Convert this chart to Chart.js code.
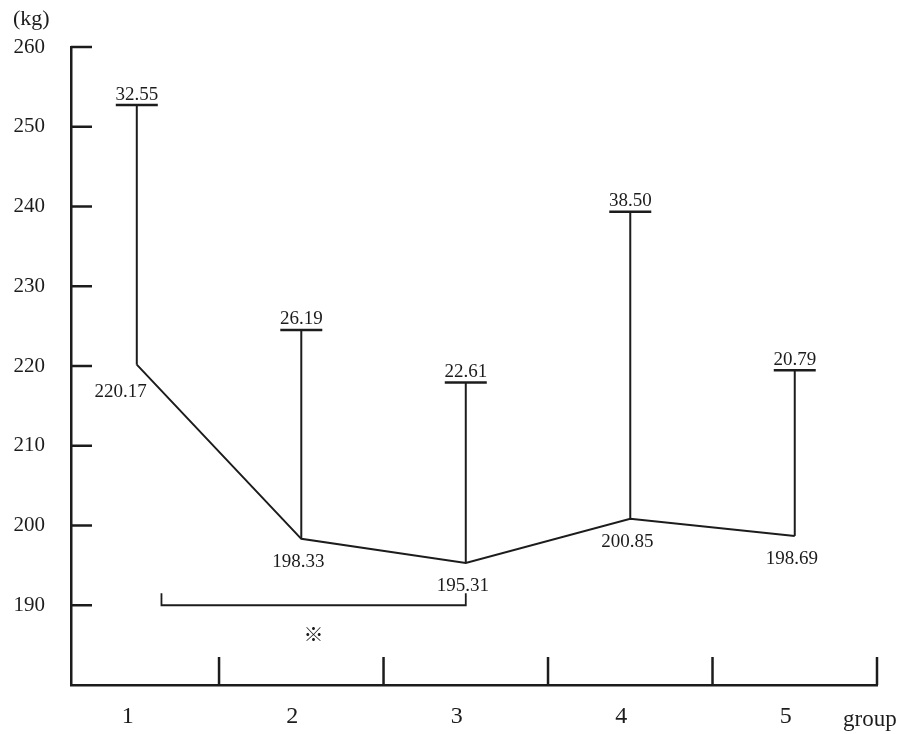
<!DOCTYPE html>
<html>
<head>
<meta charset="utf-8">
<script src="https://cdn.jsdelivr.net/npm/chart.js@4/dist/chart.umd.min.js"></script>
<style>
  html, body { margin: 0; padding: 0; background: #ffffff; }
  canvas { display: block; }
</style>
</head>
<body>
<canvas id="c" width="903" height="734"></canvas>
<script>
// ---- data ----
const groups = ['1', '2', '3', '4', '5'];
const means = [220.17, 198.33, 195.31, 200.85, 198.69];
const sds = [32.55, 26.19, 22.61, 38.50, 20.79];
const yTicks = [190, 200, 210, 220, 230, 240, 250, 260];
const sigPair = [1, 3];          // groups joined by the significance bracket
const sigMark = '※';
const yUnit = '(kg)';
const xTitle = 'group';

const INK = '#1c1c1c';
const SERIF = '"Liberation Serif", "Times New Roman", serif';

const meanPoints = means.map((m, i) => ({ x: i + 1, y: m }));

const annot = {
  id: 'annot',
  afterDraw(chart) {
    const ctx = chart.ctx;
    const xs = chart.scales.x, ys = chart.scales.y;
    const area = chart.chartArea;
    ctx.save();
    ctx.strokeStyle = INK;
    ctx.fillStyle = INK;
    ctx.lineCap = 'butt';

    // inward tick marks on the y axis
    ctx.lineWidth = 2.5;
    yTicks.forEach(v => {
      const y = ys.getPixelForValue(v);
      ctx.beginPath(); ctx.moveTo(area.left, y); ctx.lineTo(area.left + 21, y); ctx.stroke();
    });
    // inward tick marks on the x axis, between groups
    groups.forEach((g, i) => {
      const x = xs.getPixelForValue(i + 1.5);
      ctx.beginPath(); ctx.moveTo(x, area.bottom); ctx.lineTo(x, area.bottom - 28); ctx.stroke();
    });

    // SD bars (upward) with caps and labels
    ctx.lineWidth = 2;
    ctx.font = '19px ' + SERIF;
    means.forEach((m, i) => {
      const x = xs.getPixelForValue(i + 1);
      const y0 = ys.getPixelForValue(m);
      const y1 = ys.getPixelForValue(m + sds[i]);
      ctx.beginPath(); ctx.moveTo(x, y0); ctx.lineTo(x, y1); ctx.stroke();
      ctx.lineWidth = 2.5;
      ctx.beginPath(); ctx.moveTo(x - 21, y1); ctx.lineTo(x + 21, y1); ctx.stroke();
      ctx.lineWidth = 2;
      ctx.textAlign = 'center';
      ctx.textBaseline = 'bottom';
      ctx.fillText(sds[i].toFixed(2), x, y1 - 1);
      // mean labels
      ctx.textBaseline = 'middle';
      if (i === 0) {
        ctx.textAlign = 'right';
        ctx.fillText(m.toFixed(2), x + 10, y0 + 27);
      } else {
        ctx.textAlign = 'center';
        ctx.fillText(m.toFixed(2), x - 3, y0 + 23);
      }
    });

    // significance bracket
    const bx0 = xs.getPixelForValue(sigPair[0] + 0.15);
    const bx1 = xs.getPixelForValue(sigPair[1]);
    const by = ys.getPixelForValue(yTicks[0]);
    ctx.lineWidth = 1.8;
    ctx.beginPath();
    ctx.moveTo(bx0, by - 12); ctx.lineTo(bx0, by); ctx.lineTo(bx1, by); ctx.lineTo(bx1, by - 12);
    ctx.stroke();
    ctx.font = '20px "Noto Sans CJK JP", "DejaVu Sans", sans-serif';
    ctx.textAlign = 'center'; ctx.textBaseline = 'middle';
    ctx.fillText(sigMark, (bx0 + bx1) / 2, by + 29);

    // unit and axis title
    ctx.font = '22px ' + SERIF;
    ctx.textAlign = 'left'; ctx.textBaseline = 'alphabetic';
    ctx.fillText(yUnit, 13, 25);
    ctx.font = '23px ' + SERIF;
    ctx.fillText(xTitle, area.right - 34, 726);
    ctx.restore();
  }
};

new Chart(document.getElementById('c'), {
  type: 'line',
  data: {
    datasets: [{
      data: meanPoints,
      borderColor: INK,
      borderWidth: 2,
      pointRadius: 0,
      tension: 0,
      fill: false
    }]
  },
  options: {
    responsive: false,
    animation: false,
    layout: { padding: { top: 47, right: 26, left: 0, bottom: 0 } },
    plugins: { legend: { display: false }, tooltip: { enabled: false } },
    scales: {
      x: {
        type: 'linear',
        min: 0.6,
        max: 5.5,
        afterBuildTicks(s) { s.ticks = groups.map((g, i) => ({ value: i + 1 })); },
        afterFit(s) { s.height = 49; },
        ticks: {
          callback: (v) => groups[Math.round(v) - 1] ?? '',
          font: { family: SERIF, size: 24 },
          color: INK,
          padding: 17,
          labelOffset: -9,
          maxRotation: 0,
          autoSkip: false
        },
        grid: { display: false, drawTicks: false },
        border: { display: true, color: INK, width: 2.5 }
      },
      y: {
        type: 'linear',
        min: 180,
        max: 260,
        afterBuildTicks(s) { s.ticks = yTicks.map(v => ({ value: v })); },
        afterFit(s) { s.width = 71; },
        ticks: {
          font: { family: SERIF, size: 21 },
          color: INK,
          padding: 26
        },
        grid: { display: false, drawTicks: false },
        border: { display: true, color: INK, width: 2.5 }
      }
    }
  },
  plugins: [annot]
});
</script>
</body>
</html>
